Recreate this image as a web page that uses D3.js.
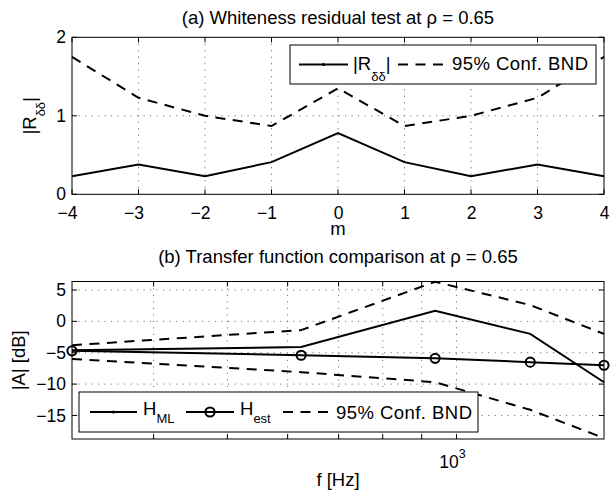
<!DOCTYPE html>
<html><head><meta charset="utf-8">
<script src="https://cdn.jsdelivr.net/npm/d3@7"></script>
<style>
body{margin:0;background:#fff;}
text{font-family:"Liberation Sans",Arial,Helvetica,sans-serif;fill:#000;}
</style></head>
<body><svg id="c" width="610" height="495"></svg>
<script>
// ---- data (top panel) ----
const lagM = [-4,-3,-2,-1,0,1,2,3,4];
const residR = [0.23,0.38,0.23,0.41,0.78,0.41,0.23,0.38,0.23];
const confR = [1.75,1.23,1.0,0.87,1.35,0.87,1.0,1.23,1.75];
const yTicksA = [0,1,2];
// ---- data (bottom panel) ----
const freqHz = [312.5,625,937.5,1250,1562.5];
const hML = [-4.6,-4.1,1.7,-2.0,-9.7];
const hEst = [-4.7,-5.4,-5.9,-6.5,-7.0];
const confUp = [-3.8,-1.4,6.3,2.6,-2.0];
const confLo = [-6.0,-8.1,-9.7,-14.1,-18.6];
const yTicksB = [-15,-10,-5,0,5];
const xMinorB = [400,500,600,700,800,900];
const xMajorB = [1000];

const FS = 18.5, TFS = 17.5;
const svg = d3.select("#c");
const fmt = d => d < 0 ? "\u2212" + (-d) : String(d);
const GRID = {stroke:"#666", w:0.9, dash:"1.2,5.3"};

function frame(g, x0, x1, y0, y1){
  g.append("rect").attr("x",x0).attr("y",y1).attr("width",x1-x0).attr("height",y0-y1)
   .attr("fill","none").attr("stroke","#000").attr("stroke-width",1);
}
function vgrid(g, xs, y0, y1){
  xs.forEach(v=>g.append("line").attr("x1",v).attr("x2",v).attr("y1",y0).attr("y2",y1)
    .attr("stroke",GRID.stroke).attr("stroke-width",GRID.w).attr("stroke-dasharray",GRID.dash));
}
function hgrid(g, ys, x0, x1){
  ys.forEach(v=>g.append("line").attr("y1",v).attr("y2",v).attr("x1",x0).attr("x2",x1)
    .attr("stroke",GRID.stroke).attr("stroke-width",GRID.w).attr("stroke-dasharray",GRID.dash));
}
function xticks(g, xs, y0, y1, len){
  xs.forEach(v=>{
    g.append("line").attr("x1",v).attr("x2",v).attr("y1",y0).attr("y2",y0-len).attr("stroke","#000");
    g.append("line").attr("x1",v).attr("x2",v).attr("y1",y1).attr("y2",y1+len).attr("stroke","#000");
  });
}
function yticks(g, ys, x0, x1, len){
  ys.forEach(v=>{
    g.append("line").attr("y1",v).attr("y2",v).attr("x1",x0).attr("x2",x0+len).attr("stroke","#000");
    g.append("line").attr("y1",v).attr("y2",v).attr("x1",x1).attr("x2",x1-len).attr("stroke","#000");
  });
}

// ================= Panel (a) =================
const xa = d3.scaleLinear().domain([-4,4]).range([72,604]);
const ya = d3.scaleLinear().domain([0,2]).range([194.3,37.3]);
const ga = svg.append("g");
vgrid(ga, lagM.slice(1,-1).map(xa), ya(0), ya(2));
hgrid(ga, [1].map(ya), xa(-4), xa(4));

const lineA = (arr)=>d3.line().x((d,i)=>xa(lagM[i])).y(d=>ya(d))(arr);
ga.append("path").attr("d",lineA(residR)).attr("fill","none").attr("stroke","#000").attr("stroke-width",2);
ga.append("path").attr("d",lineA(confR)).attr("fill","none").attr("stroke","#000").attr("stroke-width",2).attr("stroke-dasharray","10,7.5");

xticks(ga, lagM.map(xa), ya(0), ya(2), 5);
yticks(ga, yTicksA.map(ya), xa(-4), xa(4), 5);
frame(ga, xa(-4), xa(4), ya(0), ya(2));

// tick labels
ga.append("g").attr("transform",`translate(0,${ya(0)})`)
  .call(d3.axisBottom(xa).tickValues(lagM).tickSize(0).tickPadding(12).tickFormat(fmt))
  .call(g=>{g.select(".domain").remove();
    g.selectAll("text").attr("font-size",TFS).attr("font-family",null)
     .attr("dx",d=>d<0?"-0.29em":0);});
ga.append("g").attr("transform",`translate(${xa(-4)},0)`)
  .call(d3.axisLeft(ya).tickValues(yTicksA).tickSize(0).tickPadding(6).tickFormat(fmt))
  .call(g=>{g.select(".domain").remove(); g.selectAll("text").attr("font-size",TFS).attr("font-family",null);});

svg.append("text").attr("x",338).attr("y",24).attr("text-anchor","middle").attr("font-size",FS)
  .text("(a) Whiteness residual test at \u03c1 = 0.65");
svg.append("text").attr("x",338).attr("y",235).attr("text-anchor","middle").attr("font-size",FS).text("m");
const yla = svg.append("text").attr("transform","translate(36,115.8) rotate(-90)").attr("text-anchor","middle").attr("font-size",FS);
yla.append("tspan").text("|R");
yla.append("tspan").attr("font-size",13).attr("dy",9).text("\u03b4\u03b4");
yla.append("tspan").attr("dy",-9).text("|");

// legend (a)
const la = svg.append("g");
la.append("rect").attr("x",290).attr("y",45).attr("width",306).attr("height",39).attr("fill","#fff").attr("stroke","#000");
la.append("line").attr("x1",299).attr("x2",348).attr("y1",64.5).attr("y2",64.5).attr("stroke","#000").attr("stroke-width",2);
la.append("circle").attr("cx",323.5).attr("cy",64.5).attr("r",1.6).attr("fill","#000");
const lat = la.append("text").attr("x",353).attr("y",70).attr("font-size",FS);
lat.append("tspan").text("|R");
lat.append("tspan").attr("font-size",13).attr("dy",11).text("\u03b4\u03b4");
lat.append("tspan").attr("dy",-11).text("|");
la.append("line").attr("x1",398).attr("x2",447).attr("y1",64.5).attr("y2",64.5).attr("stroke","#000").attr("stroke-width",2).attr("stroke-dasharray","10,7.5");
la.append("text").attr("x",452).attr("y",70).attr("font-size",FS).attr("textLength",136).text("95% Conf. BND");

// ================= Panel (b) =================
const xb = d3.scaleLog().domain([312.5,1562.5]).range([72,604]);
const yb = d3.scaleLinear().domain([-18.75,6.35]).range([439,281.5]);
const gb = svg.append("g");
vgrid(gb, xMinorB.concat(xMajorB).map(xb), yb(-18.75), yb(6.35));
hgrid(gb, yTicksB.map(yb), xb(312.5), xb(1562.5));

const lineB = (arr)=>d3.line().x((d,i)=>xb(freqHz[i])).y(d=>yb(d))(arr);
gb.append("path").attr("d",lineB(confUp)).attr("fill","none").attr("stroke","#000").attr("stroke-width",2).attr("stroke-dasharray","10,7.5");
gb.append("path").attr("d",lineB(confLo)).attr("fill","none").attr("stroke","#000").attr("stroke-width",2).attr("stroke-dasharray","10,7.5");
gb.append("path").attr("d",lineB(hML)).attr("fill","none").attr("stroke","#000").attr("stroke-width",2);
gb.append("path").attr("d",lineB(hEst)).attr("fill","none").attr("stroke","#000").attr("stroke-width",2);
gb.selectAll("circle.est").data(hEst).enter().append("circle").attr("class","est")
  .attr("cx",(d,i)=>xb(freqHz[i])).attr("cy",d=>yb(d)).attr("r",4.6)
  .attr("fill","none").attr("stroke","#000").attr("stroke-width",2);

xticks(gb, xMinorB.concat(xMajorB).map(xb), yb(-18.75), yb(6.35), 5);
yticks(gb, yTicksB.map(yb), xb(312.5), xb(1562.5), 5);
frame(gb, xb(312.5), xb(1562.5), yb(-18.75), yb(6.35));

gb.append("g").attr("transform",`translate(${xb(312.5)},0)`)
  .call(d3.axisLeft(yb).tickValues(yTicksB).tickSize(0).tickPadding(6).tickFormat(fmt))
  .call(g=>{g.select(".domain").remove(); g.selectAll("text").attr("font-size",TFS).attr("font-family",null);});
xMajorB.forEach(v=>{
  const t = svg.append("text").attr("x",xb(v)-4).attr("y",468).attr("text-anchor","middle").attr("font-size",TFS);
  t.append("tspan").text("10");
  t.append("tspan").attr("font-size",12.5).attr("dy",-10).text("3");
});

svg.append("text").attr("x",338).attr("y",263).attr("text-anchor","middle").attr("font-size",FS)
  .text("(b) Transfer function comparison at \u03c1 = 0.65");
svg.append("text").attr("x",338).attr("y",486).attr("text-anchor","middle").attr("font-size",FS).text("f [Hz]");
svg.append("text").attr("transform","translate(25,360.3) rotate(-90)").attr("text-anchor","middle").attr("font-size",FS).text("|A| [dB]");

// legend (b)
const lb = svg.append("g");
lb.append("rect").attr("x",79).attr("y",392).attr("width",399).attr("height",40).attr("fill","#fff").attr("stroke","#000");
lb.append("line").attr("x1",90).attr("x2",137).attr("y1",412).attr("y2",412).attr("stroke","#000").attr("stroke-width",2);
lb.append("circle").attr("cx",113.5).attr("cy",412).attr("r",1.6).attr("fill","#000");
const t1 = lb.append("text").attr("x",143).attr("y",414.5).attr("font-size",FS);
t1.append("tspan").text("H"); t1.append("tspan").attr("font-size",13).attr("dy",8.5).text("ML");
lb.append("line").attr("x1",186).attr("x2",234).attr("y1",412).attr("y2",412).attr("stroke","#000").attr("stroke-width",2);
lb.append("circle").attr("cx",210).attr("cy",412).attr("r",4.6).attr("fill","none").attr("stroke","#000").attr("stroke-width",2);
const t2 = lb.append("text").attr("x",240).attr("y",414.5).attr("font-size",FS);
t2.append("tspan").text("H"); t2.append("tspan").attr("font-size",13).attr("dy",8.5).text("est");
lb.append("line").attr("x1",283).attr("x2",331).attr("y1",412).attr("y2",412).attr("stroke","#000").attr("stroke-width",2).attr("stroke-dasharray","10,7.5");
lb.append("text").attr("x",336).attr("y",418.5).attr("font-size",FS).attr("textLength",136).text("95% Conf. BND");
</script></body></html>
